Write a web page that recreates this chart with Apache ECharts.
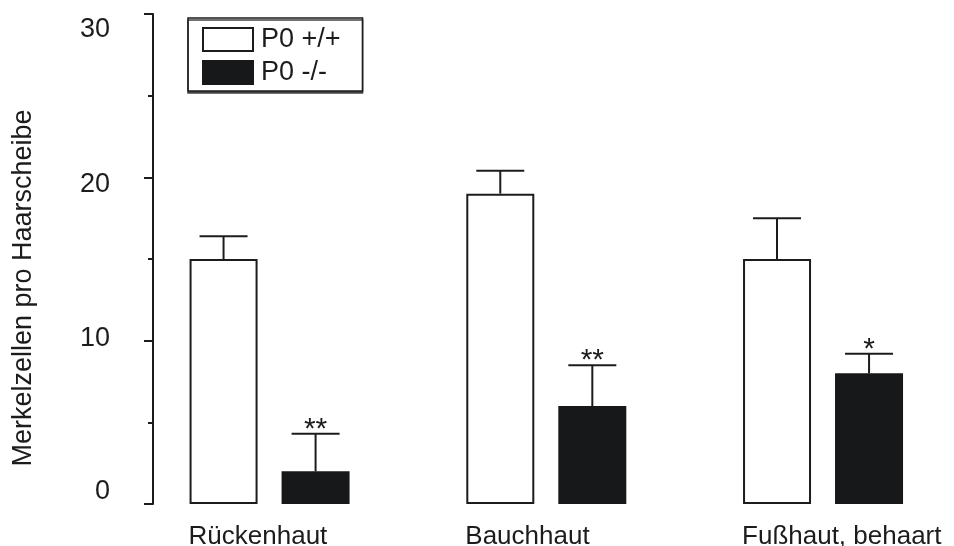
<!DOCTYPE html>
<html>
<head>
<meta charset="utf-8">
<script src="https://cdn.jsdelivr.net/npm/echarts@6/dist/echarts.min.js"></script>
<style>html,body{margin:0;padding:0;background:#fff}#c{width:954px;height:546px}</style>
</head>
<body>
<div id="c"></div>
<script>
const categories = ['Rückenhaut', 'Bauchhaut', 'Fußhaut, behaart'];
const seriesNames = ['P0 +/+', 'P0 -/-'];
const wildMeans = [15, 19, 15];
const wildErrors = [1.4, 1.4, 2.5];
const knockMeans = [2, 6, 8];
const knockErrors = [2.3, 2.5, 1.2];
const significance = ['**', '**', '*'];
const yTicks = [0, 10, 20, 30];

const FONT = '"Liberation Sans", Arial, sans-serif';
const INK = '#1c1c1c';

// vertical nudges of the tick labels, as drawn in the reference (style only)
const tickLabelRich = {
  t0: { padding: [0, 0, 24, 0] },
  t10: { padding: [0, 0, 4, 0] },
  t20: { padding: [14, 0, 0, 0] },
  t30: { padding: [32, 0, 0, 0] }
};

function errorSeries(means, errors, side, marks) {
  const data = means.map((m, i) => [i, m, errors[i], marks ? marks[i] : '']);
  return {
    type: 'custom',
    z: 5,
    silent: true,
    data: data,
    encode: { x: 0, y: 1 },
    renderItem: function (params, api) {
      const base = api.coord([api.value(0), api.value(1)]);
      const top = api.coord([api.value(0), api.value(1) + api.value(2)]);
      const band = api.size([1, 0])[0];
      const x = base[0] + side * band * 0.1663;
      const half = 24;
      const children = [
        { type: 'line', shape: { x1: x, y1: base[1], x2: x, y2: top[1] }, style: { stroke: INK, lineWidth: 2 } },
        { type: 'line', shape: { x1: x - half, y1: top[1], x2: x + half, y2: top[1] }, style: { stroke: INK, lineWidth: 2 } }
      ];
      const mark = data[params.dataIndex][3];
      if (mark) {
        children.push({
          type: 'text',
          style: { text: mark, x: x, y: top[1] - 19, textAlign: 'center', textVerticalAlign: 'top', font: '30px ' + FONT, fill: INK }
        });
      }
      return { type: 'group', children: children };
    }
  };
}

const chart = echarts.init(document.getElementById('c'));
chart.setOption({
  animation: false,
  backgroundColor: '#fff',
  textStyle: { fontFamily: FONT },
  grid: { left: 131.2, right: -7.4, top: 14, bottom: 42, containLabel: false, outerBoundsMode: 'none' },
  legend: {
    left: 188, top: 18,
    orient: 'vertical',
    data: seriesNames,
    itemWidth: 50, itemHeight: 23, itemGap: 6,
    padding: [8, 22, 5, 14],
    borderColor: INK, borderWidth: 1.5,
    backgroundColor: '#fff',
    shadowColor: '#444', shadowOffsetX: 0, shadowOffsetY: 2, shadowBlur: 0,
    textStyle: { fontSize: 27, color: INK, fontFamily: FONT, padding: [0, 0, 0, 3] },
    icon: 'rect'
  },
  xAxis: {
    type: 'category',
    data: categories,
    axisLine: { show: false },
    axisTick: { show: false },
    axisLabel: { fontSize: 26, color: INK, align: 'left', padding: [0, 0, 0, -81], margin: 20, fontFamily: FONT }
  },
  yAxis: {
    type: 'value',
    min: yTicks[0], max: yTicks[yTicks.length - 1], interval: 10,
    offset: -21.8,
    name: 'Merkelzellen pro Haarscheibe',
    nameLocation: 'middle',
    nameGap: 116,
    nameTextStyle: { fontSize: 27, color: INK, fontFamily: FONT, padding: [0, 58, 0, 0] },
    axisLine: { show: true, lineStyle: { color: INK, width: 2 } },
    axisTick: { show: true, length: 9, lineStyle: { color: INK, width: 2 } },
    minorTick: { show: true, splitNumber: 2, length: 5, lineStyle: { color: INK, width: 2 } },
    splitLine: { show: false },
    axisLabel: {
      fontSize: 27, color: INK, margin: 43, fontFamily: FONT,
      formatter: function (v) { return '{t' + v + '|' + v + '}'; },
      rich: tickLabelRich
    }
  },
  series: [
    {
      name: seriesNames[0], type: 'bar', data: wildMeans,
      barWidth: 68, barGap: '35.3%',
      itemStyle: { color: '#fff', borderColor: INK, borderWidth: 2 }
    },
    {
      name: seriesNames[1], type: 'bar', data: knockMeans,
      barWidth: 68, barGap: '35.3%',
      itemStyle: { color: '#17181a', borderColor: '#17181a', borderWidth: 2 }
    },
    errorSeries(wildMeans, wildErrors, -1, null),
    errorSeries(knockMeans, knockErrors, 1, significance)
  ]
});
</script>
</body>
</html>
